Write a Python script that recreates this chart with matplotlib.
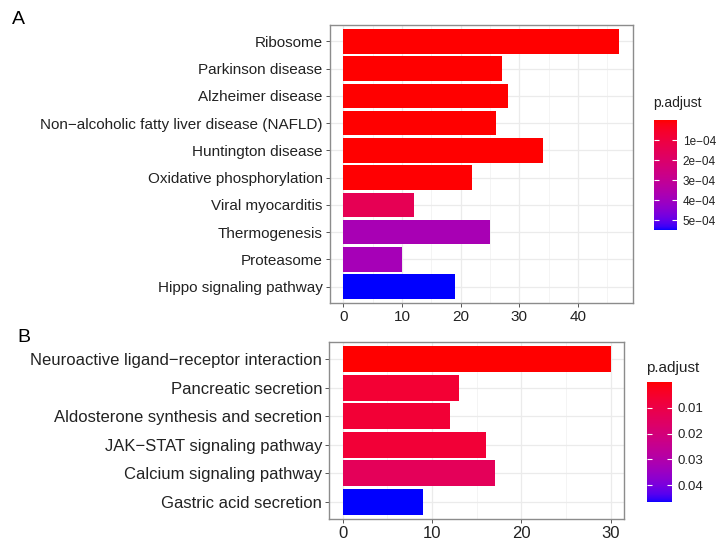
import numpy as np
import matplotlib
matplotlib.use("Agg")
import matplotlib.pyplot as plt
from matplotlib.colors import ListedColormap, Normalize
from matplotlib.cm import ScalarMappable

plt.rcParams['font.family'] = ['Liberation Sans', 'DejaVu Sans']

# ---------------- data ----------------
cats_A = ["Ribosome", "Parkinson disease", "Alzheimer disease",
          "Non\u2212alcoholic fatty liver disease (NAFLD)", "Huntington disease",
          "Oxidative phosphorylation", "Viral myocarditis", "Thermogenesis",
          "Proteasome", "Hippo signaling pathway"]
count_A = [47, 27, 28, 26, 34, 22, 12, 25, 10, 19]
padj_A = [2e-9, 5e-8, 8e-8, 1e-7, 2e-7, 3e-6, 1.5e-4, 3.8e-4, 3.85e-4, 5.5e-4]
cbar_ticks_A = [1e-4, 2e-4, 3e-4, 4e-4, 5e-4]
cbar_labels_A = ["1e\u221204", "2e\u221204", "3e\u221204", "4e\u221204", "5e\u221204"]
xticks_A = [0, 10, 20, 30, 40]

cats_B = ["Neuroactive ligand\u2212receptor interaction", "Pancreatic secretion",
          "Aldosterone synthesis and secretion", "JAK\u2212STAT signaling pathway",
          "Calcium signaling pathway", "Gastric acid secretion"]
count_B = [30, 13, 12, 16, 17, 9]
padj_B = [1e-5, 0.0065, 0.0068, 0.007, 0.0135, 0.0465]
cbar_ticks_B = [0.01, 0.02, 0.03, 0.04]
cbar_labels_B = ["0.01", "0.02", "0.03", "0.04"]
xticks_B = [0, 10, 20, 30]

# ------------- Lab gradient red -> blue (like ggplot) -------------
Mf = np.array([[0.4124, 0.3576, 0.1805], [0.2126, 0.7152, 0.0722], [0.0193, 0.1192, 0.9505]])
Mi = np.linalg.inv(Mf)
WP = np.array([0.95047, 1.0, 1.08883])
d = 6 / 29

def _lin(c):
    return np.where(c <= 0.04045, c / 12.92, ((c + 0.055) / 1.055) ** 2.4)

def _gam(c):
    c = np.clip(c, 0, 1)
    return np.where(c <= 0.0031308, 12.92 * c, 1.055 * c ** (1 / 2.4) - 0.055)

def _f(t):
    return np.where(t > d ** 3, np.cbrt(t), t / (3 * d * d) + 4 / 29)

def _finv(t):
    return np.where(t > d, t ** 3, 3 * d * d * (t - 4 / 29))

def rgb2lab(rgb):
    xyz = Mf @ _lin(np.array(rgb, float)) / WP
    fx, fy, fz = _f(xyz)
    return np.array([116 * fy - 16, 500 * (fx - fy), 200 * (fy - fz)])

def lab2rgb(lab):
    L, a, b = lab
    fy = (L + 16) / 116
    fx = fy + a / 500
    fz = fy - b / 200
    xyz = np.array([_finv(fx), _finv(fy), _finv(fz)]) * WP
    return _gam(Mi @ xyz)

lab_r = rgb2lab([1, 0, 0])
lab_b = rgb2lab([0, 0, 1])
cols = [lab2rgb(lab_r + t * (lab_b - lab_r)) for t in np.linspace(0, 1, 256)]
cmap = ListedColormap(cols)

# ------------- layout -------------
W, H = 716, 546
fig = plt.figure(figsize=(W / 100, H / 100), dpi=100)

def rect(l, t, r, b):
    return [l / W, 1 - b / H, (r - l) / W, (b - t) / H]

txt_col = "#222222"

def panel(ax_rect, cats, counts, padj, vmax, xticks, fs, cax_rect, cticks, clabels, cfs,
          title_xy, tfs):
    ax = fig.add_axes(rect(*ax_rect))
    norm = Normalize(vmin=0, vmax=vmax)
    n = len(cats)
    y = np.arange(n)
    ax.barh(y, counts, height=0.9, color=cmap(norm(np.array(padj))), zorder=3)
    mx = max(counts)
    ax.set_xlim(-0.05 * mx, 1.05 * mx)
    ax.set_ylim(n - 1 + 0.6, -0.6)
    ax.set_yticks(y)
    ax.set_yticklabels(cats)
    ax.set_xticks(xticks)
    ax.set_xticks([v + 5 for v in xticks if v + 5 < 1.05 * mx], minor=True)
    ax.grid(True, which='major', color='#EBEBEB', lw=0.9, zorder=0)
    ax.grid(True, which='minor', axis='x', color='#F2F2F2', lw=0.6, zorder=0)
    ax.tick_params(axis='both', which='major', length=3, width=0.7, color='#555555',
                   labelsize=fs, labelcolor=txt_col, pad=2)
    ax.tick_params(axis='x', which='minor', length=0)
    for s in ax.spines.values():
        s.set_color('#8C8C8C')
        s.set_linewidth(1.0)
    ax.set_axisbelow(True)

    cax = fig.add_axes(rect(*cax_rect))
    sm = ScalarMappable(norm=norm, cmap=cmap)
    cb = fig.colorbar(sm, cax=cax)
    cb.outline.set_visible(False)
    cax.invert_yaxis()
    cb.set_ticks(cticks)
    cb.set_ticklabels(clabels)
    cax.tick_params(length=0, labelsize=cfs, labelcolor=txt_col, pad=4)
    tr = cax.get_yaxis_transform()
    cax.hlines(cticks, 0, 0.2, color='white', lw=0.8, transform=tr)
    cax.hlines(cticks, 0.8, 1.0, color='white', lw=0.8, transform=tr)
    fig.text(title_xy[0] / W, 1 - title_xy[1] / H, "p.adjust", fontsize=tfs,
             ha='left', va='center', color=txt_col)
    return ax

panel((329.5, 25, 633, 303), cats_A, count_A, padj_A, 5.5e-4, xticks_A, 11,
      (654, 120, 677, 230), cbar_ticks_A, cbar_labels_A, 8.5, (653, 103), 10)
panel((329.3, 342, 624, 519), cats_B, count_B, padj_B, 0.0465, xticks_B, 12,
      (647, 382, 672, 502), cbar_ticks_B, cbar_labels_B, 9.5, (646, 368), 11)

fig.text(18 / W, 1 - 20 / H, "A", fontsize=14, ha='center', va='center', color='black')
fig.text(24 / W, 1 - 337 / H, "B", fontsize=14, ha='center', va='center', color='black')

fig.savefig("out.png", dpi=100)
